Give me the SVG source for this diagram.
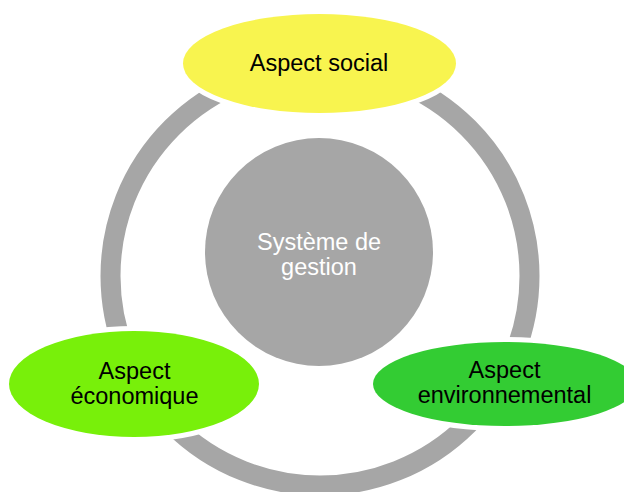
<svg xmlns="http://www.w3.org/2000/svg" width="624" height="492" viewBox="0 0 624 492">
<style>
.lbl{font-family:"Liberation Sans",Arial,sans-serif;font-size:23.5px;text-anchor:middle;fill:#000}
.wlbl{font-family:"Liberation Sans",Arial,sans-serif;font-size:23.5px;text-anchor:middle;fill:#fff}
.ell{stroke:#fff;stroke-width:10;paint-order:stroke}
</style>
<rect width="624" height="492" fill="#fff"/>
<g id="connectors">
<circle cx="320" cy="276" r="209.5" fill="none" stroke="#a6a6a6" stroke-width="20"/>
</g>
<g id="center">
<circle cx="319" cy="252" r="114" fill="#a6a6a6"/>
<text class="wlbl" x="319" y="250">Système de</text>
<text class="wlbl" x="319" y="275">gestion</text>
</g>
<g id="social">
<ellipse class="ell" cx="319.5" cy="63.5" rx="136.5" ry="49.5" fill="#f8f44f"/>
<text class="lbl" x="319" y="71">Aspect social</text>
</g>
<g id="economique">
<ellipse class="ell" cx="134" cy="384" rx="125" ry="53" fill="#78f00a"/>
<text class="lbl" x="134.5" y="379">Aspect</text>
<text class="lbl" x="134.5" y="404">économique</text>
</g>
<g id="environnemental">
<ellipse class="ell" cx="505" cy="384" rx="132" ry="42" fill="#33cc33"/>
<text class="lbl" x="504.5" y="378">Aspect</text>
<text class="lbl" x="504.5" y="403">environnemental</text>
</g>
</svg>
